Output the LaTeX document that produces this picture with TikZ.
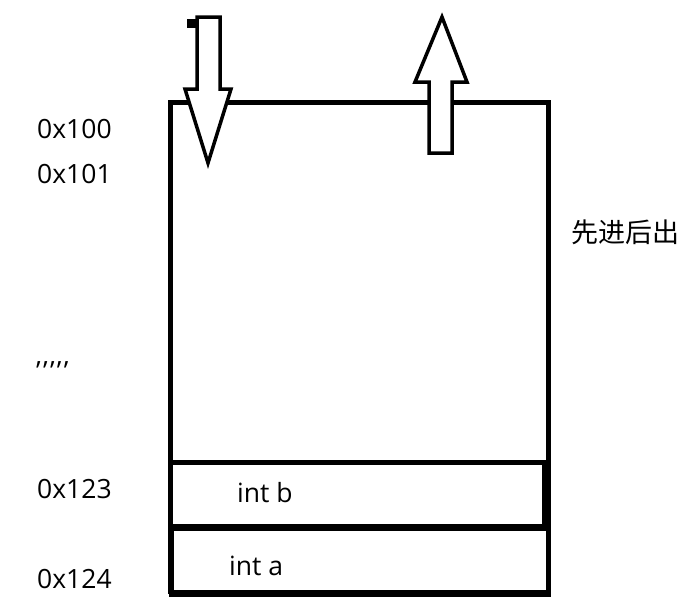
\documentclass[tikz,border=0pt]{standalone}
\usepackage{fontspec}
\setmainfont{Open Sans}
\newfontfamily\cjkfont{Noto Sans CJK SC}
\newcommand{\apos}{\char"2019\kern2.4pt}
\begin{document}
\begin{tikzpicture}[x=1pt,y=-1pt,
  frame/.style={draw=black,line width=4.5pt},
  arrowshape/.style={draw=black,line width=3.5pt,line join=miter,fill=white},
  lbl/.style={font=\fontsize{26.5}{30}\selectfont,anchor=base west,inner sep=0pt},
  cjk/.style={font=\cjkfont\fontsize{27}{30}\selectfont,anchor=west,inner sep=0pt}]
\useasboundingbox (0,0) rectangle (700,606);
% stack frame
\draw[frame] (170.5,102.5) rectangle (548.5,592);
\draw[frame] (170.5,462.5) rectangle (544.5,526);
\draw[frame] (171.5,528.5) rectangle (548.5,594.5);
% push arrow (down)
\draw[arrowshape] (197,17) -- (220,17) -- (220,89) -- (231,89) -- (208,163) -- (185,89) -- (197,89) -- cycle;
\fill[black] (187,19) rectangle (197,28);
% pop arrow (up)
\draw[arrowshape] (429,153) -- (452,153) -- (452,82) -- (467,82) -- (442,17) -- (415,82) -- (429,82) -- cycle;
% labels
\node[lbl] (a100) at (37,138) {0x100};
\node[lbl] (a101) at (37,183) {0x101};
\node[lbl] (dots) at (36,380) {\apos\apos\apos\apos\apos};
\node[lbl] (a123) at (37,498) {0x123};
\node[lbl] (a124) at (37,588) {0x124};
\node[cjk] (lifo) at (571,232) {先进后出};
\node[lbl] (intb) at (237,502) {int b};
\node[lbl] (inta) at (229,575) {int a};
\end{tikzpicture}
\end{document}
